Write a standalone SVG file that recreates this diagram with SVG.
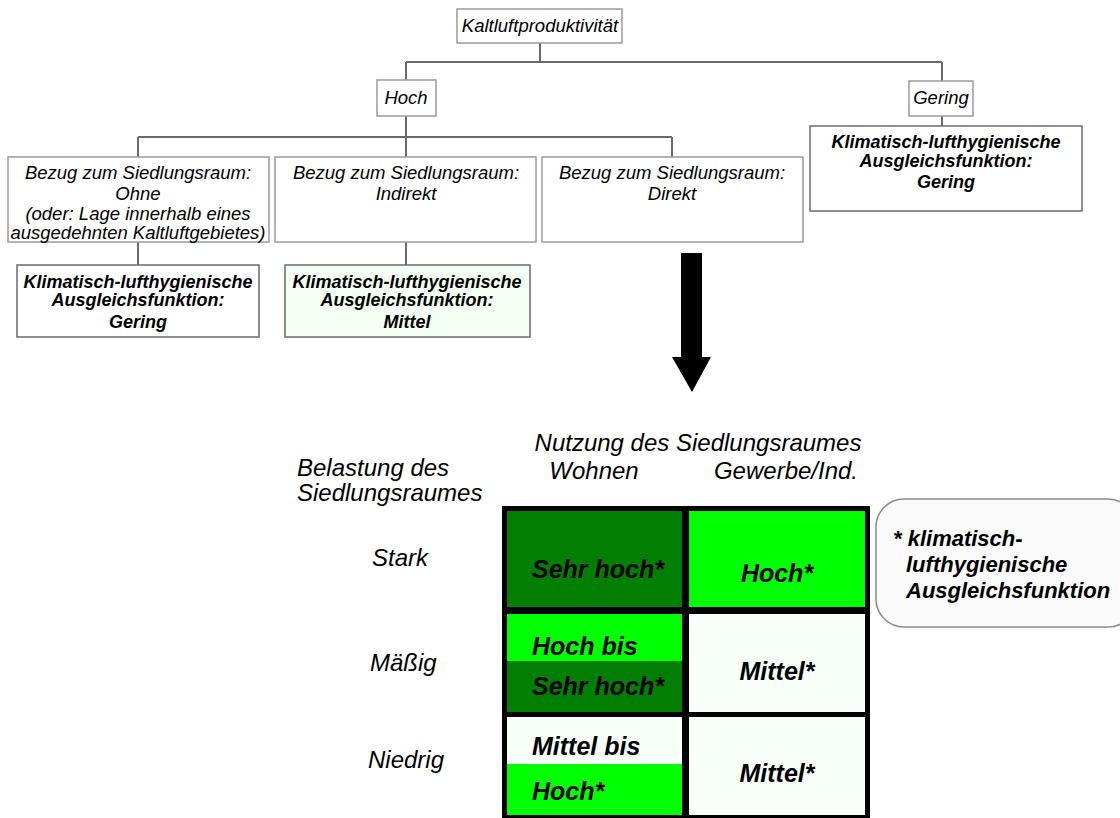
<svg xmlns="http://www.w3.org/2000/svg" width="1120" height="818" viewBox="0 0 1120 818">
<style>
.box{fill:#fff;stroke:#9a9a9a;stroke-width:1.5}
.rbox{fill:#fff;stroke:#6a6a6a;stroke-width:1.5}
.t{font-family:"Liberation Sans",Arial,sans-serif;font-style:italic;font-size:18.5px;fill:#000;text-anchor:middle}
.b{font-family:"Liberation Sans",Arial,sans-serif;font-style:italic;font-weight:bold;font-size:18px;fill:#000;text-anchor:middle}
.h{font-family:"Liberation Sans",Arial,sans-serif;font-style:italic;font-size:24px;fill:#000}
.c{font-family:"Liberation Sans",Arial,sans-serif;font-style:italic;font-weight:bold;font-size:25px;fill:#000}
.con{fill:none;stroke:#6a6a6a;stroke-width:2}
</style>
<rect width="1120" height="818" fill="#fff"/>
<g id="connectors">
<path class="con" d="M540 43V62M406 62H942M406 62V80M942 62V81"/>
<path class="con" d="M406 116V137M138 137H672M138 137V157M406 137V157M672 137V157"/>
<path class="con" d="M942 116V126"/>
<path class="con" d="M138 242V265M406 242V265"/>
</g>
<g id="n-kaltluft"><rect class="box" x="457" y="9" width="165" height="34"/><text class="t" x="540" y="32">Kaltluftproduktivität</text></g>
<g id="n-hoch"><rect class="box" x="377" y="80" width="59" height="36"/><text class="t" x="406" y="104">Hoch</text></g>
<g id="n-gering"><rect class="box" x="909" y="81" width="64" height="35"/><text class="t" x="941" y="104">Gering</text></g>
<g id="n-gering-aus"><rect class="rbox" x="810" y="126" width="272" height="85"/>
<text class="b" x="946" y="148">Klimatisch-lufthygienische</text><text class="b" x="946" y="167">Ausgleichsfunktion:</text><text class="b" x="946" y="188">Gering</text></g>
<g id="n-ohne"><rect class="box" x="8" y="157" width="261" height="85"/>
<text class="t" x="138" y="179">Bezug zum Siedlungsraum:</text><text class="t" x="138" y="200">Ohne</text><text class="t" x="138" y="220">(oder: Lage innerhalb eines</text><text class="t" x="138" y="239">ausgedehnten Kaltluftgebietes)</text></g>
<g id="n-indirekt"><rect class="box" x="275" y="157" width="261" height="85"/>
<text class="t" x="406" y="179">Bezug zum Siedlungsraum:</text><text class="t" x="406" y="200">Indirekt</text></g>
<g id="n-direkt"><rect class="box" x="542" y="157" width="261" height="85"/>
<text class="t" x="672" y="179">Bezug zum Siedlungsraum:</text><text class="t" x="672" y="200">Direkt</text></g>
<g id="n-ohne-aus"><rect class="rbox" x="17" y="265" width="242" height="72"/>
<text class="b" x="138" y="288">Klimatisch-lufthygienische</text><text class="b" x="138" y="306">Ausgleichsfunktion:</text><text class="b" x="138" y="328">Gering</text></g>
<g id="n-indirekt-aus"><rect class="rbox" x="285" y="265" width="245" height="72" style="fill:#f3fff3"/>
<text class="b" x="407" y="288">Klimatisch-lufthygienische</text><text class="b" x="407" y="306">Ausgleichsfunktion:</text><text class="b" x="407" y="328">Mittel</text></g>
<g id="arrow"><polygon points="681,253 702,253 702,357 711,357 692,392 672,357 681,357" fill="#000"/></g>
<g id="table">
<rect x="502" y="506" width="368" height="314" fill="#000"/>
<rect x="507" y="511" width="175" height="96" fill="#007f00"/>
<rect x="689" y="511" width="176" height="96" fill="#00ff00"/>
<rect x="507" y="614" width="175" height="47" fill="#00ff00"/>
<rect x="507" y="661" width="175" height="51" fill="#007f00"/>
<rect x="689" y="614" width="176" height="98" fill="#f8fff8"/>
<rect x="507" y="717" width="175" height="47" fill="#f8fff8"/>
<rect x="507" y="764" width="175" height="51" fill="#00ff00"/>
<rect x="689" y="717" width="176" height="98" fill="#f8fff8"/>
<text class="c" x="598" y="578" text-anchor="middle">Sehr hoch*</text>
<text class="c" x="777" y="582" text-anchor="middle">Hoch*</text>
<text class="c" x="532" y="655">Hoch bis</text>
<text class="c" x="532" y="695">Sehr hoch*</text>
<text class="c" x="777" y="680" text-anchor="middle">Mittel*</text>
<text class="c" x="532" y="755">Mittel bis</text>
<text class="c" x="532" y="800">Hoch*</text>
<text class="c" x="777" y="782" text-anchor="middle">Mittel*</text>
</g>
<g id="headers">
<text class="h" x="297" y="476">Belastung des</text>
<text class="h" x="297" y="501">Siedlungsraumes</text>
<text class="h" x="698" y="451" text-anchor="middle">Nutzung des Siedlungsraumes</text>
<text class="h" x="594" y="479" text-anchor="middle">Wohnen</text>
<text class="h" x="786" y="479" text-anchor="middle">Gewerbe/Ind.</text>
<text class="h" x="372" y="566">Stark</text>
<text class="h" x="370" y="671">Mäßig</text>
<text class="h" x="368" y="768">Niedrig</text>
</g>
<g id="legend">
<rect x="876" y="499" width="260" height="128" rx="28" fill="#fafafa" stroke="#8a8a8a" stroke-width="1.5"/>
<text class="c" x="893" y="546" style="font-size:22px">* klimatisch-</text>
<text class="c" x="906" y="572" style="font-size:22px">lufthygienische</text>
<text class="c" x="906" y="598" style="font-size:22px">Ausgleichsfunktion</text>
</g>
</svg>
